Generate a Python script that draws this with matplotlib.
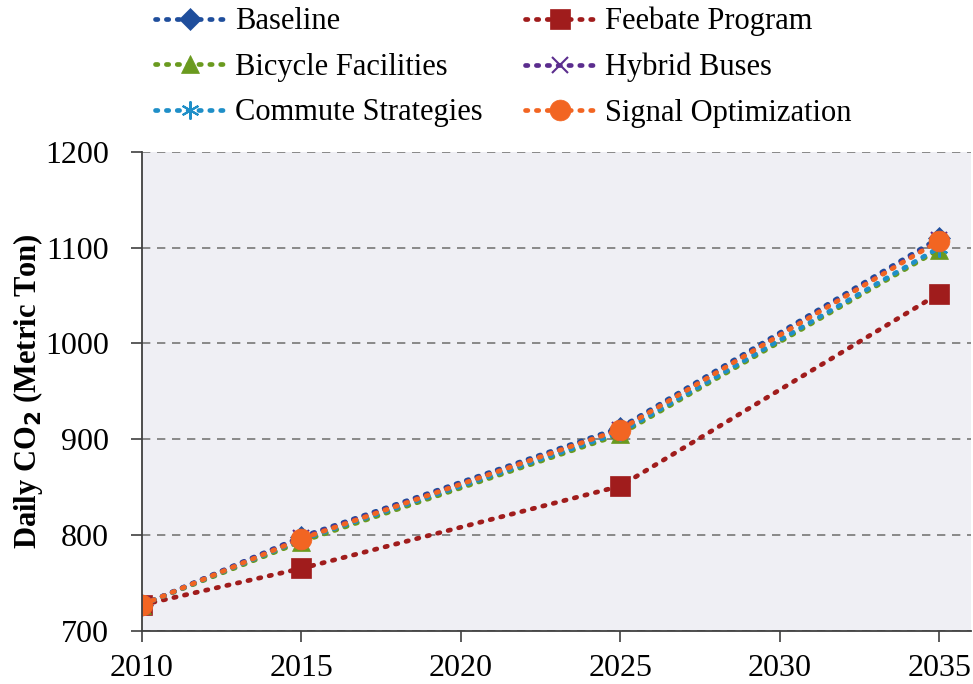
import matplotlib
matplotlib.use("Agg")
from matplotlib import pyplot as plt

years = [2010, 2015, 2025, 2035]
baseline = [727, 798, 912, 1110]
feebate = [727, 765, 851, 1052]
bicycle = [727, 793, 905, 1098]
hybrid = [727, 797, 910, 1108]
commute = [727, 795, 907, 1100]
signal = [727, 796, 910, 1107]

plt.rcParams['font.family'] = ['Liberation Serif', 'DejaVu Serif']

fig = plt.figure(figsize=(9.73, 6.84), dpi=100)
ax = fig.add_axes([0.146, 0.078, 0.852, 0.7])
ax.set_facecolor('#efeff4')

series = [
  ("Baseline", baseline, '#1f4e9c', 'D', 11),
  ("Feebate Program", feebate, '#a01c1c', 's', 15),
  ("Bicycle Facilities", bicycle, '#6a9a1f', '^', 13),
  ("Hybrid Buses", hybrid, '#5b2d8e', 'x', 12),
  ("Commute Strategies", commute, '#1f8fc8', (6, 2, 0), 13),
  ("Signal Optimization", signal, '#f26522', 'o', 15),
]
handles = {}
for name, vals, col, mk, ms in series:
  h, = ax.plot(years, vals, linestyle=(0, (0.5, 1.8)), linewidth=3.4, color=col,
               marker=mk, markersize=ms, markeredgewidth=1.5 if mk in ('x', (6, 2, 0)) else 0.5,
               markeredgecolor=col, markerfacecolor=col, label=name, dash_capstyle='round')
  handles[name] = h

ax.set_xlim(2010, 2036)
ax.set_ylim(700, 1200)
ax.set_xticks([2010, 2015, 2020, 2025, 2030, 2035])
ax.set_yticks([700, 800, 900, 1000, 1100, 1200])
ax.tick_params(axis='both', labelsize=23, length=8, width=1.2, direction='out',
               color='#404040')
ax.tick_params(axis='y', pad=16)
ax.tick_params(axis='x', pad=9)
ax.yaxis.grid(True, linestyle=(0, (5, 4)), color='#777777', linewidth=1.2)
ax.set_axisbelow(True)
for s in ['top', 'right']:
  ax.spines[s].set_visible(False)
for s in ['left', 'bottom']:
  ax.spines[s].set_linewidth(1.3)
  ax.spines[s].set_color('#404040')
ax.set_ylabel("Daily CO$_\\mathbf{2}$ (Metric Ton)", fontsize=22, fontweight='bold', labelpad=0)

order = ["Baseline", "Bicycle Facilities", "Commute Strategies",
         "Feebate Program", "Hybrid Buses", "Signal Optimization"]
fig.legend([handles[n] for n in order], order, ncol=2, loc='upper left',
           bbox_to_anchor=(0.131, 1.03), frameon=False, fontsize=22,
           handlelength=2.3, columnspacing=1.37, handletextpad=0.33, labelspacing=0.54)

plt.savefig("out.png", dpi=100)
